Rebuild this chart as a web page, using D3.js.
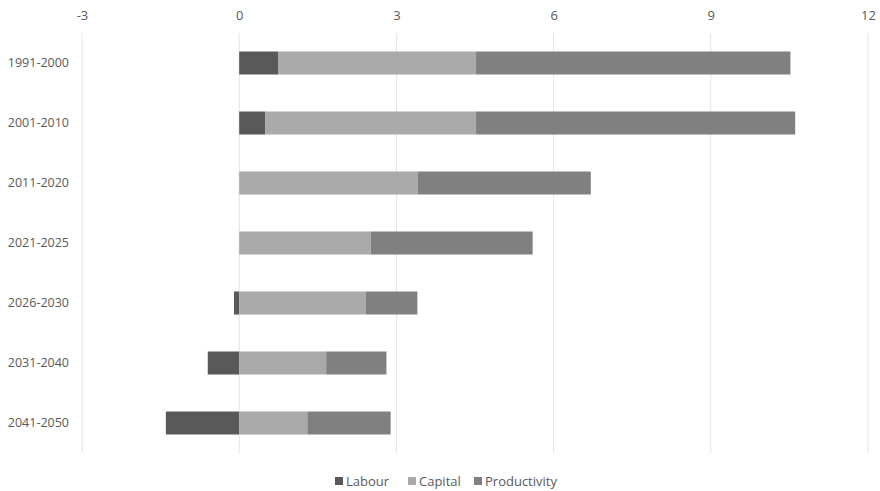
<!DOCTYPE html>
<html>
<head>
<meta charset="utf-8">
<script src="https://cdn.jsdelivr.net/npm/d3@7"></script>
<style>
  html, body { margin: 0; padding: 0; background: #fff; }
  svg { display: block; font-family: "Open Sans", "Liberation Sans", sans-serif; }
</style>
</head>
<body>
<svg id="chart" width="880" height="491"></svg>
<script>
// Growth contributions by period (percentage points)
const periods = ["1991-2000", "2001-2010", "2011-2020", "2021-2025", "2026-2030", "2031-2040", "2041-2050"];
const labour = [0.75, 0.5, 0, 0, -0.1, -0.6, -1.4];
const capital = [3.77, 4.02, 3.41, 2.51, 2.42, 1.66, 1.3];
const productivity = [6.0, 6.09, 3.3, 3.09, 0.98, 1.15, 1.59];
const xTicks = [-3, 0, 3, 6, 9, 12];
const seriesNames = ["Labour", "Capital", "Productivity"];
const seriesColors = ["#595959", "#aaaaaa", "#808080"];

const svg = d3.select("#chart");

const x = d3.scaleLinear().domain([-3, 12]).range([82, 868]);
const y = d3.scaleBand().domain(periods).range([33, 453]);
const barH = 23;
const fontStack = "\"Open Sans\", sans-serif";

// vertical gridlines
svg.append("g")
  .selectAll("line")
  .data(xTicks)
  .join("line")
  .attr("x1", d => x(d)).attr("x2", d => x(d))
  .attr("y1", 33).attr("y2", 453)
  .attr("stroke", "#e3e3e3")
  .attr("stroke-width", 1);

// top axis labels (plain hyphen for negatives)
const axis = svg.append("g")
  .attr("transform", "translate(0,20)")
  .call(d3.axisTop(x).tickValues(xTicks).tickSize(0).tickPadding(0).tickFormat(d => String(d)));
axis.select(".domain").remove();
axis.selectAll("text")
  .attr("fill", "#595959")
  .style("font-size", "13px")
  .style("font-family", fontStack);

// category labels
const yAxis = svg.append("g")
  .attr("transform", "translate(69,0)")
  .call(d3.axisLeft(y).tickSize(0).tickPadding(0));
yAxis.select(".domain").remove();
yAxis.selectAll("text")
  .attr("fill", "#595959")
  .style("font-size", "12.5px")
  .style("font-family", fontStack);

// stacked segments: labour from zero (may be negative), capital and productivity stacked to the right
const rows = periods.map((p, i) => {
  const l = labour[i], c = capital[i], pr = productivity[i];
  const posBase = Math.max(l, 0);
  return [
    { period: p, s: 0, x0: Math.min(0, l), x1: Math.max(0, l) },
    { period: p, s: 1, x0: posBase, x1: posBase + c },
    { period: p, s: 2, x0: posBase + c, x1: posBase + c + pr }
  ];
}).flat().filter(d => d.x1 - d.x0 > 0);

svg.append("g")
  .selectAll("rect")
  .data(rows)
  .join("rect")
  .attr("x", d => x(d.x0))
  .attr("width", d => x(d.x1) - x(d.x0))
  .attr("y", d => y(d.period) + y.bandwidth() / 2 - barH / 2)
  .attr("height", barH)
  .attr("fill", d => seriesColors[d.s]);

// legend
const legendItems = [
  { name: seriesNames[0], x: 335 },
  { name: seriesNames[1], x: 408 },
  { name: seriesNames[2], x: 474 }
];
const lg = svg.append("g");
legendItems.forEach((it, i) => {
  lg.append("rect")
    .attr("x", it.x).attr("y", 477)
    .attr("width", 8).attr("height", 8)
    .attr("fill", seriesColors[i]);
  lg.append("text")
    .attr("x", it.x + 11).attr("y", 486)
    .attr("fill", "#595959")
    .style("font-size", "13px")
    .text(it.name);
});
</script>
</body>
</html>
